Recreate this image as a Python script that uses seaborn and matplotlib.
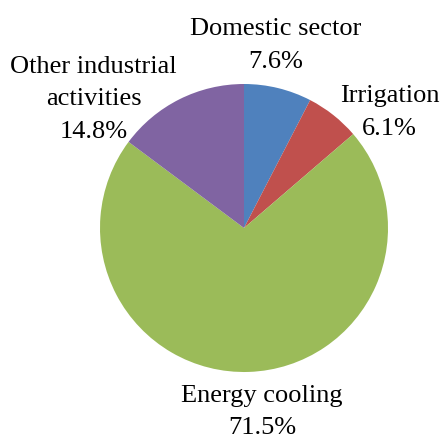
import matplotlib
matplotlib.use("Agg")
import matplotlib.pyplot as plt
import seaborn as sns

categories = ["Domestic sector", "Irrigation", "Energy cooling", "Other industrial\nactivities"]
values = [7.6, 6.1, 71.5, 14.8]
colors = ["#4F81BD", "#C0504D", "#9BBB59", "#8064A2"]

sns.set_theme(style="white")
plt.rcParams['font.family'] = ['Liberation Serif', 'DejaVu Serif']

W, H = 440, 441
fig = plt.figure(figsize=(W / 100, H / 100), dpi=100)
cx, cy, r = 244, 228, 144
ax = fig.add_axes([(cx - r) / W, (H - cy - r) / H, 2 * r / W, 2 * r / H])
ax.pie(values, colors=sns.color_palette(colors), startangle=90, counterclock=False,
       radius=1, wedgeprops=dict(linewidth=0))
ax.set_xlim(-1, 1)
ax.set_ylim(-1, 1)
ax.set_aspect('auto')
ax.axis('off')

# label anchor in pixels: (center x, baseline of last line)
label_pos = [(276, 68), (389.5, 135), (262, 434.5), (93.5, 138)]
for name, v, (px, py) in zip(categories, values, label_pos):
    fig.text(px / W, 1 - py / H, f"{name}\n{v}%", ha='center', va='baseline',
             multialignment='center', fontsize=19, linespacing=1.63, color='black')

fig.savefig("out.png", dpi=100)
